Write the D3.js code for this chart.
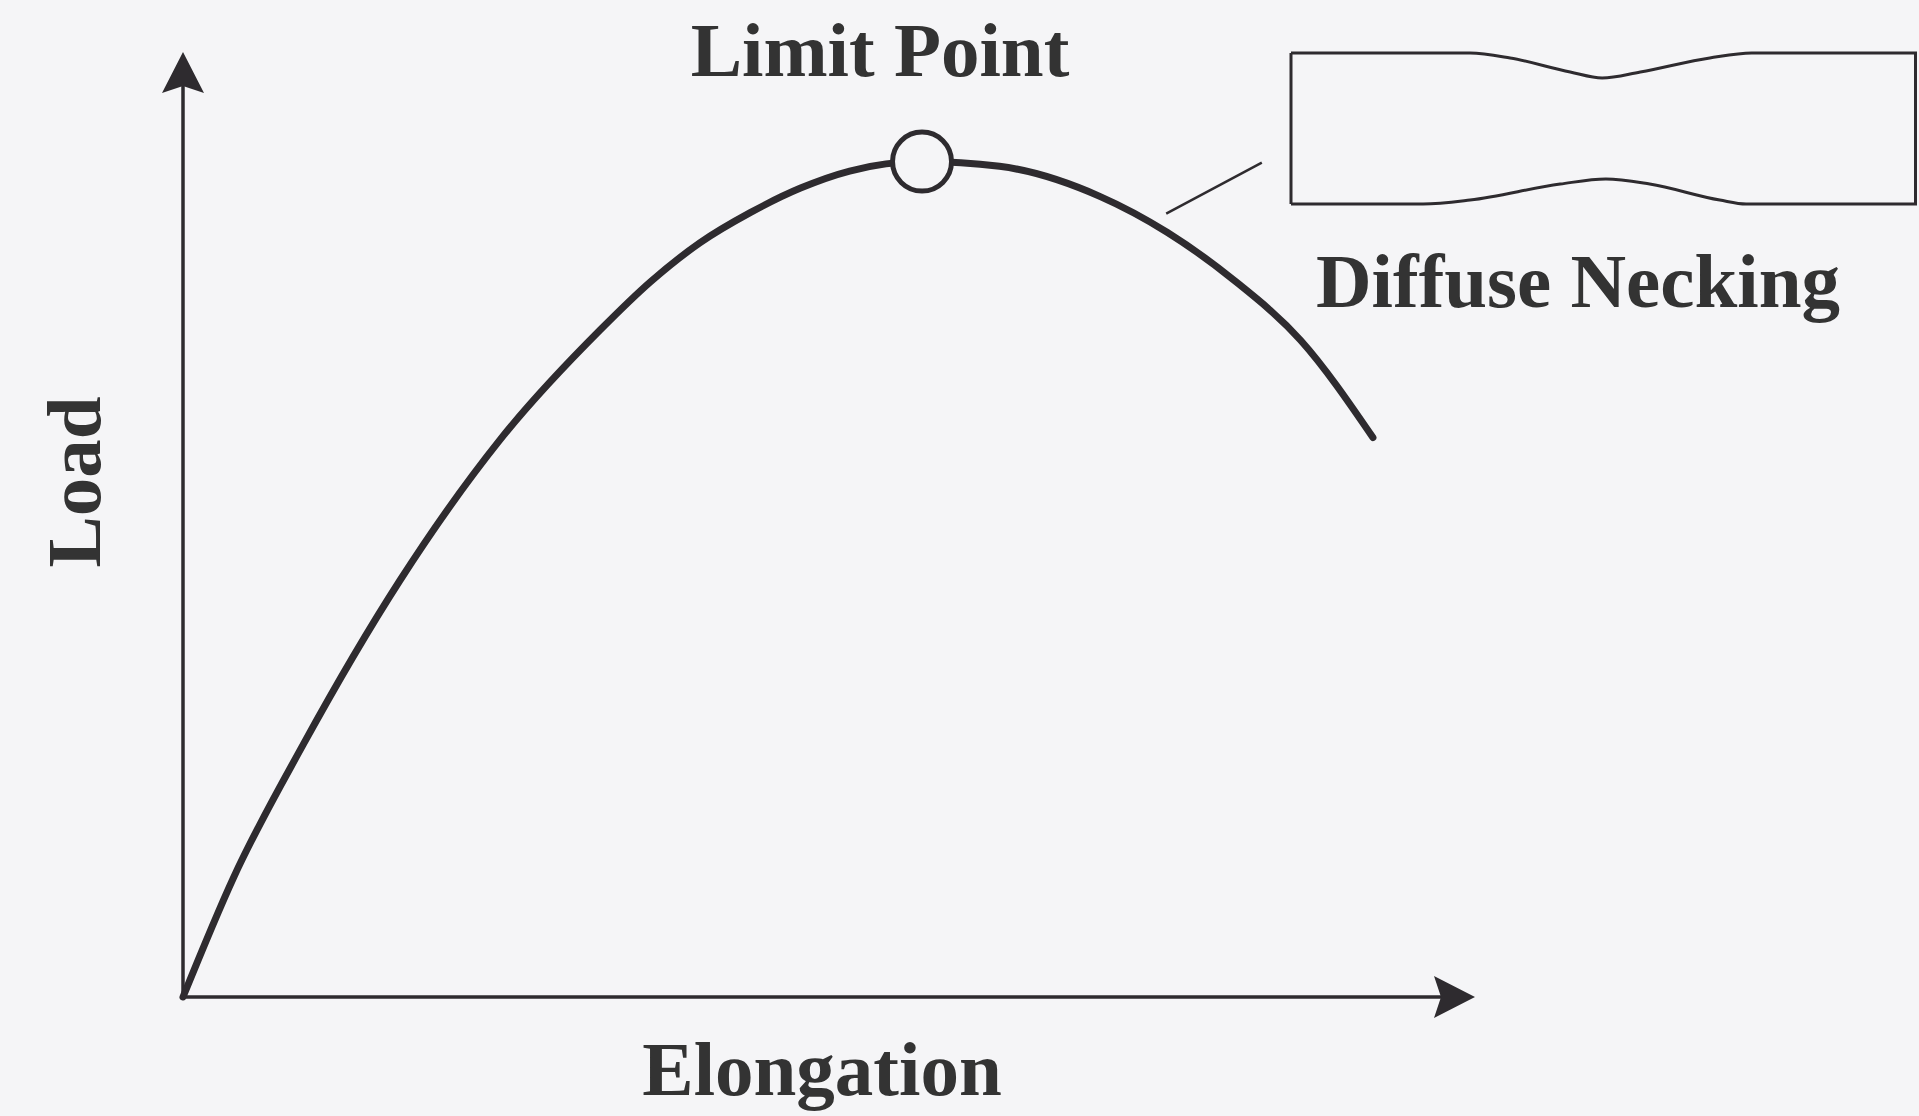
<!DOCTYPE html>
<html>
<head>
<meta charset="utf-8">
<script src="https://cdn.jsdelivr.net/npm/d3@7"></script>
<style>
  html, body { margin: 0; padding: 0; background: #f5f5f7; }
  svg { display: block; }
  text { font-family: "Liberation Serif", "Times New Roman", serif; font-weight: bold; fill: #333; }
</style>
</head>
<body>
<div id="chart"></div>
<script>
// Load-elongation curve (axis units 0..100 on both axes)
const elongation = [0, 3.9, 9.3, 16.8, 24.5, 32.3, 36.2, 40.0, 43.9, 47.8, 51.6, 57.2, 63.2, 71.0, 76.2, 81.3, 86.5, 92.1];
const load       = [0, 12.6, 26.7, 44.1, 58.9, 70.6, 75.7, 79.8, 83.0, 85.6, 87.4, 88.4, 87.9, 84.7, 80.9, 75.9, 69.5, 59.2];

// limit point and leader to the necking sketch
const limitPoint = [57.2, 88.4];
const leader = [[76.1, 82.9], [83.5, 88.3]];

// specimen outline (length 0..100, width 0..100 from top edge)
const specTopX = [0, 28.6, 35.0, 44.6, 49.7, 55.8, 66.9, 73.6, 100];
const specTopY = [0, 0, 3.3, 12.6, 16.6, 12.6, 3.3, 0, 0];
const specBotX = [0, 21.1, 28.6, 43.0, 50.3, 57.3, 68.5, 72.7, 100];
const specBotY = [100, 100, 97.4, 86.8, 83.4, 86.8, 97.4, 100, 100];

const labels = {x: "Elongation", y: "Load", limit: "Limit Point", neck: "Diffuse Necking"};

const width = 1919, height = 1116;
const ink = "#2e2b2f";

const svg = d3.select("#chart")
    .append("svg")
    .attr("width", width)
    .attr("height", height);

// Scales
const x = d3.scaleLinear().domain([0, 100]).range([183, 1475]);
const y = d3.scaleLinear().domain([0, 100]).range([997, 52]);
const sx = d3.scaleLinear().domain([0, 100]).range([1291, 1917]);
const sy = d3.scaleLinear().domain([0, 100]).range([53, 204]);

// Axes with arrow heads
const arrow = "M0,0 L-41,-21 L-34,0 L-41,21 Z";
svg.append("line")
    .attr("x1", x(0) - 1.5).attr("y1", y(0))
    .attr("x2", x(98)).attr("y2", y(0))
    .attr("stroke", ink).attr("stroke-width", 3.5);
svg.append("path")
    .attr("d", arrow)
    .attr("transform", `translate(${x(100)},${y(0)})`)
    .attr("fill", ink);
svg.append("line")
    .attr("x1", x(0)).attr("y1", y(0))
    .attr("x2", x(0)).attr("y2", y(97))
    .attr("stroke", ink).attr("stroke-width", 3.5);
svg.append("path")
    .attr("d", arrow)
    .attr("transform", `translate(${x(0)},${y(100)}) rotate(-90)`)
    .attr("fill", ink);

// Curve
const pts = elongation.map((e, i) => [e, load[i]]);
svg.append("path")
    .datum(pts)
    .attr("d", d3.line().x(d => x(d[0])).y(d => y(d[1])).curve(d3.curveMonotoneX))
    .attr("fill", "none")
    .attr("stroke", ink)
    .attr("stroke-width", 7)
    .attr("stroke-linecap", "round");

// Limit point marker
svg.append("circle")
    .attr("cx", x(limitPoint[0]))
    .attr("cy", y(limitPoint[1]))
    .attr("r", 29.5)
    .attr("fill", "#f5f5f7")
    .attr("stroke", ink)
    .attr("stroke-width", 5);

// Leader line
svg.append("line")
    .attr("x1", x(leader[0][0])).attr("y1", y(leader[0][1]))
    .attr("x2", x(leader[1][0])).attr("y2", y(leader[1][1]))
    .attr("stroke", ink).attr("stroke-width", 2.5);

// Necked specimen sketch
const specLine = d3.line().x(d => sx(d[0])).y(d => sy(d[1])).curve(d3.curveMonotoneX);
const spec = svg.append("g")
    .attr("fill", "none")
    .attr("stroke", ink)
    .attr("stroke-width", 3);
spec.append("path").attr("d", specLine(specTopX.map((v, i) => [v, specTopY[i]])));
spec.append("path").attr("d", specLine(specBotX.map((v, i) => [v, specBotY[i]])));
spec.append("line").attr("x1", sx(0)).attr("x2", sx(0)).attr("y1", sy(0)).attr("y2", sy(100));
spec.append("line").attr("x1", sx(100) - 1.5).attr("x2", sx(100) - 1.5).attr("y1", sy(0)).attr("y2", sy(100));

// Labels
svg.append("text")
    .attr("x", 880).attr("y", 76)
    .attr("text-anchor", "middle")
    .style("font-size", "77px")
    .text(labels.limit);

svg.append("text")
    .attr("x", 1578).attr("y", 307)
    .attr("text-anchor", "middle")
    .style("font-size", "77px")
    .text(labels.neck);

svg.append("text")
    .attr("x", 822).attr("y", 1095)
    .attr("text-anchor", "middle")
    .style("font-size", "77px")
    .text(labels.x);

svg.append("text")
    .attr("transform", "translate(100,482) rotate(-90)")
    .attr("text-anchor", "middle")
    .style("font-size", "77px")
    .text(labels.y);
</script>
</body>
</html>
